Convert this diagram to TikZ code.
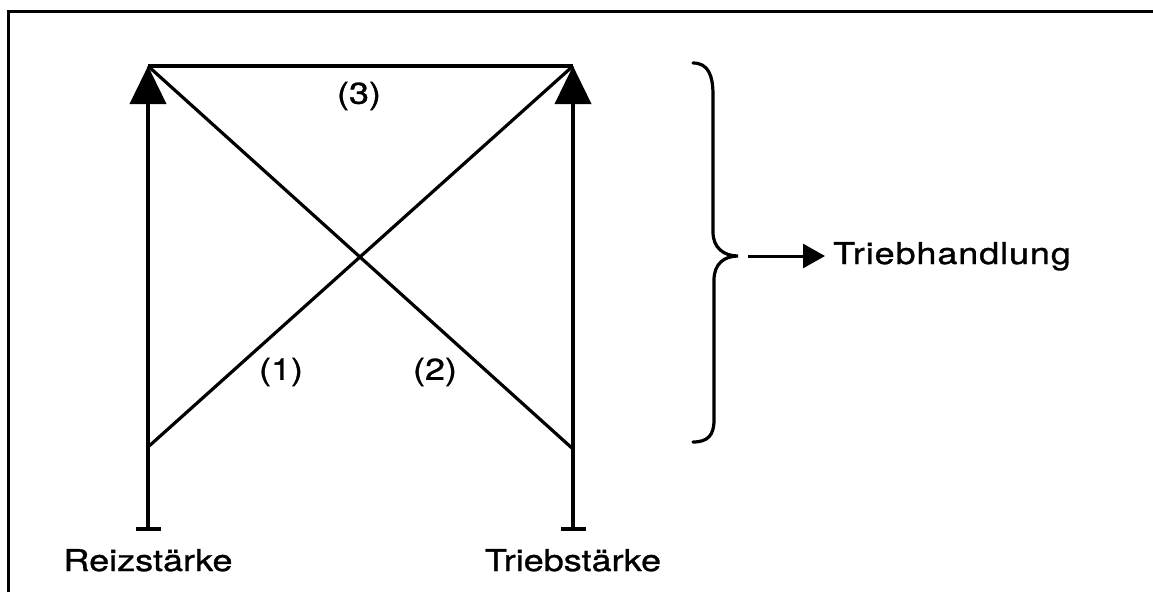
\documentclass[tikz,border=0pt]{standalone}
\usepackage{fontspec}
\setmainfont[FakeStretch=1.2,FakeBold=1.0]{TeX Gyre Heros}
\usetikzlibrary{arrows.meta}
\tikzset{
  lbl/.style={inner sep=0pt, font=\fontsize{30}{36}\selectfont},
  mainline/.style={line width=3.8pt},
  diag/.style={line width=3.2pt},
  uparrow/.style={mainline, {Bar[width=25pt]}-{Triangle[length=38pt,width=36pt]}},
  framestyle/.style={line width=3pt},
}
\begin{document}
\begin{tikzpicture}[x=1pt,y=-1pt]
\useasboundingbox (0,0) rectangle (1153,592);
% frame (only top and left edges visible)
\draw[framestyle] (8,592) -- (8,11) -- (1153,11);
% coordinates
\coordinate (LT) at (148,66);
\coordinate (RT) at (573,66);
\coordinate (LB) at (148,531);
\coordinate (RB) at (573,531);
\coordinate (L1) at (148,447);
\coordinate (R2) at (573,449);
% vertical arrows
\draw[uparrow] (LB) -- (LT);
\draw[uparrow] (RB) -- (RT);
% top line
\draw[mainline] (LT) -- (RT);
% diagonals
\draw[diag] (L1) -- (RT);
\draw[diag] (LT) -- (R2);
% labels
\node[lbl] (n3) at (359,96) {(3)};
\node[lbl] (n1) at (281,372) {(1)};
\node[lbl] (n2) at (435,372) {(2)};
\node[lbl, anchor=base] (RS) at (148,571) {Reizstärke};
\node[lbl, anchor=base] (TS) at (573,571) {Triebstärke};
% brace
\draw[line width=3.2pt, line cap=round]
  (693,63) .. controls (708,63) and (713,75) .. (713,95)
  -- (713,232) .. controls (713,248) and (724,256) .. (738,256)
  .. controls (724,256) and (714,264) .. (714,280)
  -- (714,420) .. controls (714,435) and (708,442) .. (693,442);
\coordinate (BT) at (748,256);
\node[lbl, inner xsep=8pt, anchor=base west,
  font=\fontsize{30}{36}\selectfont\addfontfeature{LetterSpace=3}] (TH) at (825,264) {Triebhandlung};
\draw[line width=3pt, -{Triangle[length=22pt,width=24pt]}] (BT) -- (BT -| TH.west);
\end{tikzpicture}
\end{document}
